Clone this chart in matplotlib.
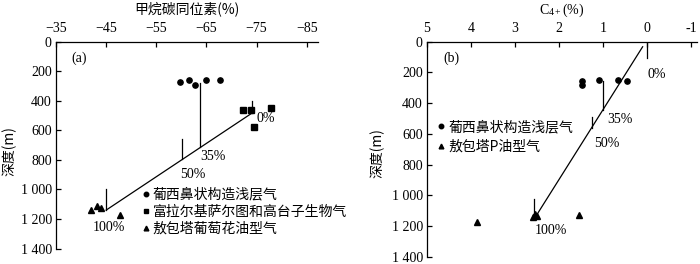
import matplotlib
matplotlib.use("Agg")
import matplotlib.pyplot as plt

plt.rcParams['mathtext.fontset'] = 'stix'
CJK = ['Noto Sans CJK SC', 'DejaVu Sans']
SERIF = 'Liberation Serif'

# ---------------- Panel (a) data ----------------
a_circle_x = [-59.7, -61.5, -62.7, -64.9, -67.7]
a_circle_y = [270, 260, 290, 260, 260]
a_square_x = [-72.3, -73.8, -74.5, -77.8]
a_square_y = [460, 460, 575, 450]
a_tri_x = [-42.0, -43.2, -44.0, -47.7]
a_tri_y = [1140, 1115, 1125, 1170]
a_mix_x = [-45.0, -74.0]
a_mix_y = [1140, 485]
a_vlines = [(-74.0, 400, 485), (-63.7, 280, 716), (-60.1, 660, 795), (-45.0, 1000, 1140)]
a_labels = [(-75.0, 520, '0%'), (-63.7, 775, '35%'), (-59.7, 900, '50%'), (-42.4, 1255, '100%')]
a_xticks = [-35, -45, -55, -65, -75, -85]
a_legend = ['葡西鼻状构造浅层气', '富拉尔基萨尔图和高台子生物气', '敖包塔葡萄花油型气']

# ---------------- Panel (b) data ----------------
b_circle_x = [1.48, 1.48, 1.09, 0.66, 0.45]
b_circle_y = [255, 280, 250, 250, 255]
b_tri_x = [3.86, 2.60, 2.55, 2.50, 1.55]
b_tri_y = [1175, 1140, 1125, 1135, 1130]
b_mix_x = [2.55, 0.10]
b_mix_y = [1148, 33]
b_vlines = [(0.0, 0, 106), (1.0, 255, 442), (1.25, 490, 560), (2.57, 1025, 1148)]
b_labels = [(-0.02, 215, '0%'), (0.9, 505, '35%'), (1.2, 660, '50%'), (2.55, 1228, '100%')]
b_xticks = [5, 4, 3, 2, 1, 0, -1]
b_legend = ['葡西鼻状构造浅层气', '敖包塔P油型气']

yticks = [0, 200, 400, 600, 800, 1000, 1200, 1400]
ytick_labels = ['0', '200', '400', '600', '800', '1 000', '1 200', '1 400']

fig = plt.figure(figsize=(7.0, 2.64), dpi=100)
axa = fig.add_axes([0.08, 0.0587, 0.374, 0.7833])
axb = fig.add_axes([0.61, 0.028, 0.386, 0.814])

FS_TICK = 10
FS_CJK = 10


def style(ax, xticks, xlim, minus):
    ax.set_xlim(*xlim)
    ax.set_ylim(1400, 0)
    ax.xaxis.tick_top()
    ax.xaxis.set_label_position('top')
    for s in ['right', 'bottom']:
        ax.spines[s].set_visible(False)
    for s in ['left', 'top']:
        ax.spines[s].set_linewidth(0.9)
    ax.set_xticks(xticks)
    if minus:
        labels = [('\u2212' + str(abs(t))) if t < 0 else str(t) for t in xticks]
    else:
        labels = [str(t) for t in xticks]
    ax.set_xticklabels(labels, fontfamily=SERIF, fontsize=FS_TICK)
    ax.set_yticks(yticks)
    ax.set_yticklabels(ytick_labels, fontfamily=SERIF, fontsize=FS_TICK)
    ax.tick_params(axis='x', direction='in', length=3.5, width=0.9, pad=5)
    ax.tick_params(axis='y', direction='in', length=3.5, width=0.9, pad=3)


style(axa, a_xticks, (-35, -87.2), True)
style(axb, b_xticks, (5, -1.14), False)

# Panel (a)
axa.plot(a_circle_x, a_circle_y, 'o', color='black', ms=3.8, label=a_legend[0])
axa.plot(a_square_x, a_square_y, 's', color='black', ms=3.8, label=a_legend[1])
axa.plot(a_tri_x, a_tri_y, '^', color='black', ms=4, label=a_legend[2])
axa.plot(a_mix_x, a_mix_y, '-', color='black', lw=0.9)
for x, y0, y1 in a_vlines:
    axa.plot([x, x], [y0, y1], '-', color='black', lw=0.9)
for x, y, t in a_labels:
    axa.text(x, y, t, fontfamily=SERIF, fontsize=FS_TICK, ha='left', va='center')
axa.text(0.057, 0.921, '(a)', transform=axa.transAxes, fontfamily=SERIF,
         fontsize=FS_TICK, ha='left', va='center')
axa.set_xlabel('甲烷碳同位素(%)', fontfamily=CJK, fontsize=FS_CJK, labelpad=6)
axa.set_ylabel('深度(m)', fontfamily=CJK, fontsize=FS_CJK)
axa.yaxis.set_label_coords(-0.150, 0.47)
axa.legend(loc='upper left', bbox_to_anchor=(0.33, 0.295), frameon=False,
           prop={'family': CJK, 'size': FS_CJK}, handlelength=0.5,
           handletextpad=0.25, borderpad=0, borderaxespad=0, labelspacing=0.23,
           markerscale=0.85)

# Panel (b)
axb.plot(b_circle_x, b_circle_y, 'o', color='black', ms=3.8, label=b_legend[0])
axb.plot(b_tri_x, b_tri_y, '^', color='black', ms=4, label=b_legend[1])
axb.plot(b_mix_x, b_mix_y, '-', color='black', lw=0.9)
for x, y0, y1 in b_vlines:
    axb.plot([x, x], [y0, y1], '-', color='black', lw=0.9)
for x, y, t in b_labels:
    axb.text(x, y, t, fontfamily=SERIF, fontsize=FS_TICK, ha='left', va='center')
axb.text(0.059, 0.925, '(b)', transform=axb.transAxes, fontfamily=SERIF,
         fontsize=FS_TICK, ha='left', va='center')
axb.set_xlabel(r'C$_{\mathregular{4+}}$(%)', fontfamily=SERIF, fontsize=FS_TICK, labelpad=6)
axb.set_ylabel('深度(m)', fontfamily=CJK, fontsize=FS_CJK)
axb.yaxis.set_label_coords(-0.158, 0.48)
axb.legend(loc='upper left', bbox_to_anchor=(0.04, 0.635), frameon=False,
           prop={'family': CJK, 'size': FS_CJK}, handlelength=0.5,
           handletextpad=0.25, borderpad=0, borderaxespad=0, labelspacing=0.4,
           markerscale=0.85)

fig.savefig('out.png', dpi=100)
